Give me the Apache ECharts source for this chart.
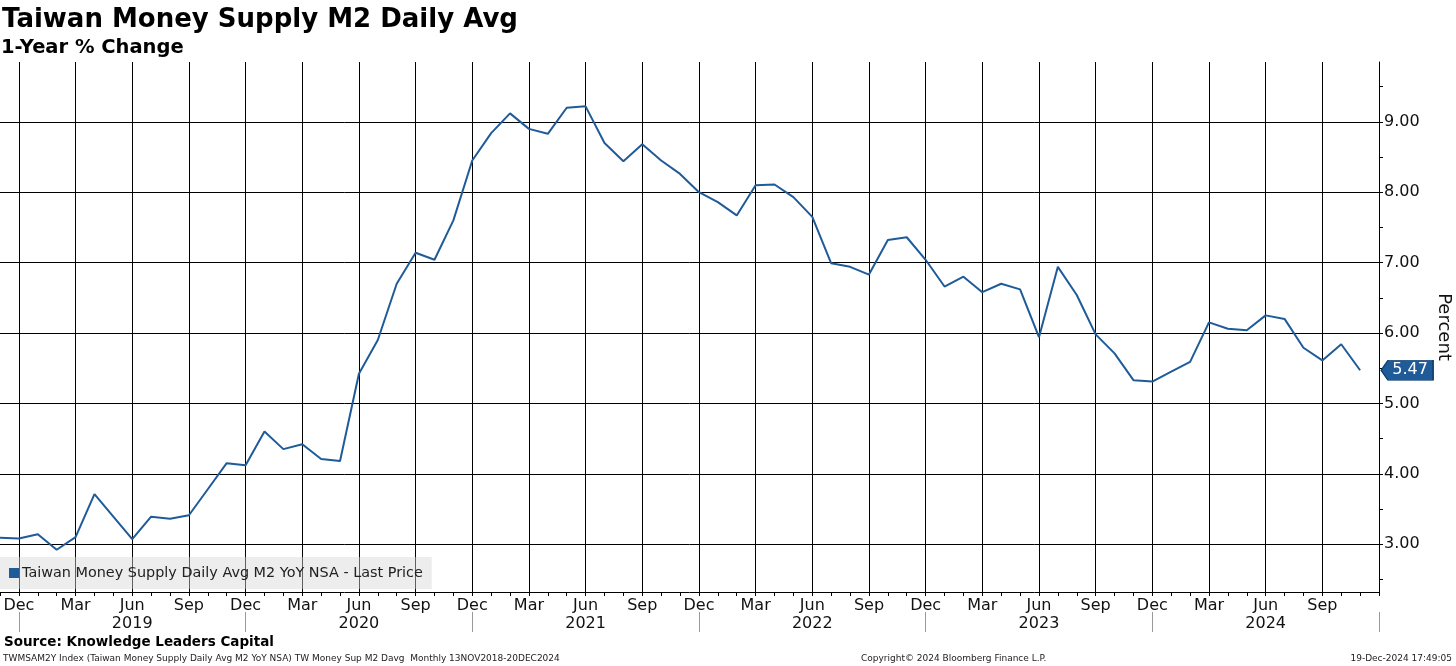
<!DOCTYPE html>
<html>
<head>
<meta charset="utf-8">
<script src="https://cdn.jsdelivr.net/npm/echarts@6/dist/echarts.min.js"></script>
<style>
html,body{margin:0;padding:0;background:#fff;}
#chart{width:1456px;height:666px;}
</style>
</head>
<body>
<div id="chart"></div>
<script>
// ---- Data ----
const months = [
  '2018-11','2018-12',
  '2019-01','2019-02','2019-03','2019-04','2019-05','2019-06','2019-07','2019-08','2019-09','2019-10','2019-11','2019-12',
  '2020-01','2020-02','2020-03','2020-04','2020-05','2020-06','2020-07','2020-08','2020-09','2020-10','2020-11','2020-12',
  '2021-01','2021-02','2021-03','2021-04','2021-05','2021-06','2021-07','2021-08','2021-09','2021-10','2021-11','2021-12',
  '2022-01','2022-02','2022-03','2022-04','2022-05','2022-06','2022-07','2022-08','2022-09','2022-10','2022-11','2022-12',
  '2023-01','2023-02','2023-03','2023-04','2023-05','2023-06','2023-07','2023-08','2023-09','2023-10','2023-11','2023-12',
  '2024-01','2024-02','2024-03','2024-04','2024-05','2024-06','2024-07','2024-08','2024-09','2024-10','2024-11','2024-12'
];
const m2YoY = [
  3.09, 3.08,
  3.14, 2.92, 3.10, 3.71, 3.39, 3.07, 3.39, 3.36, 3.41, 3.78, 4.15, 4.12,
  4.60, 4.35, 4.42, 4.21, 4.18, 5.42, 5.90, 6.70, 7.14, 7.04, 7.60, 8.45,
  8.84, 9.12, 8.90, 8.83, 9.20, 9.22, 8.70, 8.44, 8.68, 8.45, 8.26, 8.00,
  7.86, 7.67, 8.10, 8.11, 7.93, 7.65, 6.99, 6.94, 6.83, 7.32, 7.36, 7.04,
  6.66, 6.80, 6.58, 6.70, 6.62, 5.94, 6.94, 6.54, 5.98, 5.71, 5.33, 5.31,
  5.45, 5.59, 6.15, 6.06, 6.04, 6.25, 6.20, 5.79, 5.61, 5.84, 5.47, null
];
const yTickLabels = [3, 4, 5, 6, 7, 8, 9];
const yMinorTicks = [2.5, 3, 3.5, 4, 4.5, 5, 5.5, 6, 6.5, 7, 7.5, 8, 8.5, 9, 9.5];
const monthAbbr = ['Jan','Feb','Mar','Apr','May','Jun','Jul','Aug','Sep','Oct','Nov','Dec'];
const quarterMonths = [12, 3, 6, 9];
const seriesName = 'Taiwan Money Supply Daily Avg M2 YoY NSA - Last Price';
const yMin = 2.32, yMax = 9.85;

// ---- Helpers ----
const monthOf = v => parseInt(v.split('-')[1], 10);
const yearOf = v => v.split('-')[0];
let lastIdx = 0;
m2YoY.forEach((v, i) => { if (v !== null) lastIdx = i; });
const lastVal = m2YoY[lastIdx];
const lastCat = months.length - 1;

const FONT = 'DejaVu Sans';
const lineColor = '#1f5b99';

const chart = echarts.init(document.getElementById('chart'), null, {renderer: 'canvas'});
chart.setOption({
  backgroundColor: '#ffffff',
  animation: false,
  textStyle: {fontFamily: FONT},
  title: [
    {text: 'Taiwan Money Supply M2 Daily Avg', left: 2, top: 7, padding: 0,
     textStyle: {fontFamily: FONT, fontSize: 26, fontWeight: 'bold', color: '#000'}},
    {text: '1-Year % Change', left: 1, top: 38, padding: 0,
     textStyle: {fontFamily: FONT, fontSize: 19.5, fontWeight: 'bold', color: '#000'}},
    {text: 'Source: Knowledge Leaders Capital', left: 4, top: 635, padding: 0,
     textStyle: {fontFamily: FONT, fontSize: 13.5, fontWeight: 'bold', color: '#000'}},
    {text: 'TWMSAM2Y Index (Taiwan Money Supply Daily Avg M2 YoY NSA) TW Money Sup M2 Davg  Monthly 13NOV2018-20DEC2024', left: 3, top: 654, padding: 0,
     textStyle: {fontFamily: FONT, fontSize: 9, fontWeight: 'normal', color: '#222'}},
    {text: 'Copyright\u00a9 2024 Bloomberg Finance L.P.', left: 861, top: 654, padding: 0,
     textStyle: {fontFamily: FONT, fontSize: 9, fontWeight: 'normal', color: '#222'}},
    {text: '19-Dec-2024 17:49:05', right: 4, top: 654, padding: 0,
     textStyle: {fontFamily: FONT, fontSize: 9, fontWeight: 'normal', color: '#222'}}
  ],
  legend: {
    show: true, left: 0, top: 557,
    padding: [9, 9, 9, 9],
    backgroundColor: 'rgba(215,215,215,0.45)',
    itemWidth: 10, itemHeight: 10,
    icon: 'rect',
    textStyle: {fontFamily: FONT, fontSize: 14.4, color: '#222', padding: [0, 0, 0, -2]},
    data: [{name: seriesName, itemStyle: {color: lineColor}}]
  },
  grid: {left: 0, right: 77, top: 62, bottom: 74, containLabel: false, outerBoundsMode: 'none'},
  xAxis: [
    {
      type: 'category', data: months, boundaryGap: false, position: 'bottom',
      axisLine: {show: true, onZero: false, lineStyle: {color: '#000', width: 1}},
      axisTick: {show: true, interval: 0, length: 4, lineStyle: {color: '#000'}},
      axisLabel: {
        show: true, margin: 6, fontSize: 16, color: '#111', fontFamily: FONT,
        interval: (i, v) => i < lastCat && quarterMonths.includes(monthOf(v)),
        formatter: v => monthAbbr[monthOf(v) - 1]
      },
      splitLine: {
        show: true,
        interval: (i, v) => quarterMonths.includes(monthOf(v)),
        lineStyle: {color: '#000', width: 1}
      }
    },
    {
      type: 'category', data: months, boundaryGap: false, position: 'bottom', offset: 20,
      axisLine: {show: false},
      axisTick: {show: true, length: 20, interval: (i, v) => monthOf(v) === 12,
                 lineStyle: {color: '#999', width: 1}},
      axisLabel: {
        show: true, margin: 4, fontSize: 16, color: '#111', fontFamily: FONT,
        interval: (i, v) => monthOf(v) === 6,
        formatter: v => yearOf(v)
      },
      splitLine: {show: false}
    }
  ],
  yAxis: {
    type: 'value', position: 'right', min: yMin, max: yMax,
    name: 'Percent', nameLocation: 'middle', nameRotate: -90, nameGap: 56,
    nameTextStyle: {fontFamily: FONT, fontSize: 18, color: '#111'},
    axisLine: {show: true, lineStyle: {color: '#000', width: 1}},
    axisTick: {show: true, length: 4, customValues: yMinorTicks, lineStyle: {color: '#000'}},
    axisLabel: {
      show: true, margin: 5, fontSize: 16, color: '#111', fontFamily: FONT,
      customValues: yTickLabels,
      formatter: v => v.toFixed(2)
    },
    splitLine: {show: false}
  },
  series: [{
    name: seriesName,
    type: 'line',
    data: m2YoY,
    showSymbol: false,
    symbol: 'none',
    connectNulls: false,
    lineStyle: {color: lineColor, width: 2},
    itemStyle: {color: lineColor},
    z: 5,
    markLine: {
      silent: true, symbol: 'none', animation: false,
      label: {show: false},
      lineStyle: {color: '#000', width: 1, type: 'solid'},
      emphasis: {disabled: true},
      data: yTickLabels.map(v => ({yAxis: v}))
    },
    markPoint: {
      silent: true, animation: false,
      symbol: 'path://M0,10 L8,0 L60,0 L60,20 L8,20 Z',
      symbolKeepAspect: false,
      symbolSize: [52, 20],
      symbolOffset: [47, 0],
      itemStyle: {color: lineColor, borderColor: '#0d3d6b', borderWidth: 1},
      label: {show: true, position: 'inside', offset: [3, 0], color: '#fff', fontSize: 16, fontFamily: FONT,
              formatter: p => p.value.toFixed(2)},
      data: [{coord: [lastIdx, lastVal], value: lastVal}]
    }
  }]
});
</script>
</body>
</html>
